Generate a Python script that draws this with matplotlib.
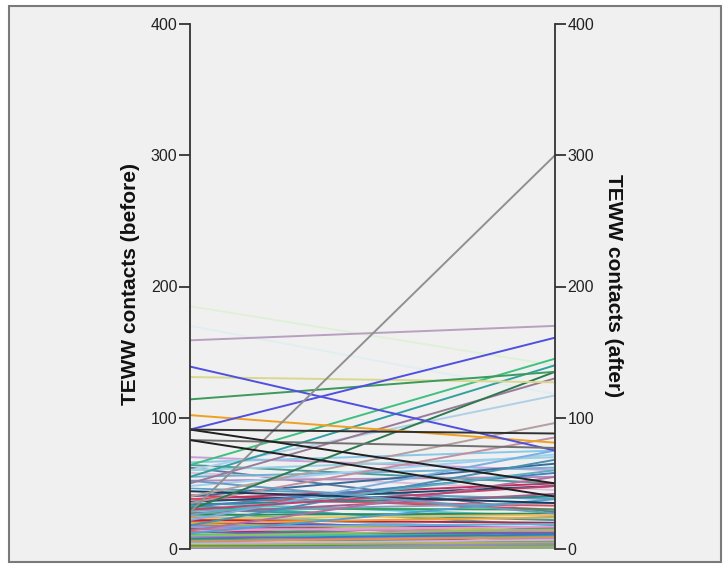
import matplotlib
matplotlib.use("Agg")
import matplotlib.pyplot as plt
from matplotlib.patches import Rectangle

plt.rcParams['font.family'] = ['Liberation Sans', 'DejaVu Sans']

axis_names = ["TEWW contacts (before)", "TEWW contacts (after)"]
y_ticks = [0, 100, 200, 300, 400]

# each case: value before, value after, line colour
before = [70, 66, 64, 62, 60, 58, 55, 52, 48, 46, 45, 41, 38, 40, 38, 36, 35, 34, 33, 32,
          31, 30, 29, 28, 27, 26, 25, 24, 23, 22, 21, 20, 20, 19, 18, 18, 17, 16, 15, 15,
          14, 13, 12, 12, 11, 10, 10, 9, 8, 8, 7, 6, 6, 5, 5, 4, 3, 3, 2, 2,
          1, 1, 0, 0, 22, 18, 26, 14, 30, 35, 12, 44, 52,
          185, 170, 60, 40, 50, 55, 64, 30, 131, 114, 159, 102, 139, 91, 28, 83, 83, 91, 91]
after = [60, 75, 50, 28, 70, 45, 62, 55, 72, 38, 30, 30, 50, 65, 33, 48, 25, 40, 18, 58,
         30, 22, 35, 12, 42, 27, 15, 10, 26, 20, 8, 16, 24, 14, 11, 6, 19, 13, 9, 4,
         17, 7, 12, 2, 10, 5, 15, 8, 3, 11, 6, 1, 9, 4, 0, 7, 2, 5, 1, 3,
         0, 2, 1, 4, 75, 68, 60, 55, 48, 85, 38, 35, 27,
         140, 118, 117, 96, 130, 140, 145, 135, 127, 135, 170, 81, 75, 161, 300, 77, 40, 50, 88]
colors = ['#c8a0d8', '#88c8e8', '#4a9a9a', '#5a7aa0', '#9ad0e0', '#e0c0d8', '#70b0d0', '#b090c0',
          '#a0d0f0', '#60a0c0', '#d0e8f0', '#e04050', '#c03060', '#3a6a9a', '#e05060', '#1a4a6a',
          '#50c0d0', '#2a8a8a', '#40b0a0', '#4a80c0', '#30a060', '#2aa0b0', '#80a0c0', '#60c080',
          '#a06090', '#2e8b57', '#9ab0d0', '#e08040', '#e8c060', '#c02040', '#d03050', '#8040a0',
          '#f0a030', '#c0c040', '#e03040', '#b060c0', '#60b0e0', '#d080c0', '#30a050', '#a03060',
          '#e0a0d0', '#f07030', '#7060b0', '#c0d080', '#40c0a0', '#d04070', '#90c060', '#b080e0',
          '#e0e060', '#3080c0', '#50a050', '#c080a0', '#e09050', '#a0a0d0', '#70c070', '#d0b0e0',
          '#60b060', '#b0b060', '#8a8a50', '#40a040', '#a0c0a0', '#c0a060', '#80b080', '#9090c0',
          '#7ab0e0', '#4a90b0', '#5ab0c0', '#b070a0', '#c04070', '#c090a0', '#50a0d0', '#1a3a5a',
          '#6a9ac0',
          '#e0f0d8', '#e0eef0', '#b0d0e8', '#b0a0a0', '#9a7a9a', '#30a0a0', '#40c080', '#2e7a50',
          '#d8d890', '#3c9a5a', '#b8a0c0', '#f0a020', '#5050e0', '#5050e0', '#909090', '#707070',
          '#202020', '#202020', '#303030']

fig = plt.figure(figsize=(7.27, 5.65), dpi=100)
fig.patch.set_facecolor('white')
fig.patches.append(Rectangle((9 / 727, 3 / 565), 712 / 727, 556 / 565,
                             transform=fig.transFigure, facecolor='#f0f0f0',
                             edgecolor='#7a7a7a', linewidth=1.5, zorder=-10))

ax = fig.add_axes([190 / 727, 16 / 565, 365 / 727, 525 / 565])
ax.patch.set_alpha(0)
for b, a, c in zip(before, after, colors):
    ax.plot([0, 1], [b, a], color=c, linewidth=1.4, solid_capstyle='butt')

ax.set_xlim(0, 1)
ax.set_ylim(0, 400)
ax.set_xticks([])
ax.set_yticks(y_ticks)
for s in ['top', 'bottom', 'right']:
    ax.spines[s].set_visible(False)
ax.spines['left'].set_color('#333333')
ax.spines['left'].set_linewidth(1.3)
ax.tick_params(axis='y', direction='out', length=8, width=1.3, color='#333333',
               labelsize=11.5, labelcolor='#222222', pad=1)

ax2 = ax.twinx()
ax2.set_ylim(0, 400)
ax2.set_yticks(y_ticks)
for s in ['top', 'bottom', 'left']:
    ax2.spines[s].set_visible(False)
ax2.spines['right'].set_color('#333333')
ax2.spines['right'].set_linewidth(1.3)
ax2.tick_params(axis='y', direction='out', length=8, width=1.3, color='#333333',
                labelsize=11.5, labelcolor='#222222', pad=1)

fig.text(130 / 727, 1 - 284 / 565, axis_names[0], rotation=90, ha='center', va='center',
         fontsize=15, fontweight='bold', color='#111111')
fig.text(614 / 727, 1 - 286 / 565, axis_names[1], rotation=270, ha='center', va='center',
         fontsize=15, fontweight='bold', color='#111111')

fig.savefig('out.png', dpi=100, facecolor=fig.get_facecolor())
